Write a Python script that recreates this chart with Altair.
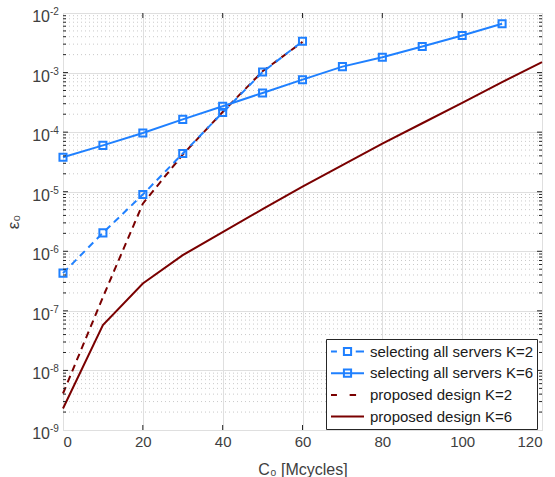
import altair as alt
import pandas as pd
import numpy as np

# ---------------- data ----------------
sel_k2_x = [0, 10, 20, 30, 40, 50, 60]
sel_k2_y = [4.3e-7, 2.04e-6, 8.97e-6, 4.37e-5, 2.13e-4, 1.02e-3, 3.35e-3]

sel_k6_x = [0, 10, 20, 30, 40, 50, 60, 70, 80, 90, 100, 110]
sel_k6_y = [3.8e-5, 6.0e-5, 9.7e-5, 1.64e-4, 2.72e-4, 4.55e-4, 7.6e-4,
            1.26e-3, 1.81e-3, 2.73e-3, 4.2e-3, 6.6e-3]

prop_k2_x = [0, 10, 20, 30, 40, 50, 60]
prop_k2_y = [4.1e-9, 1.7e-7, 6.3e-6, 4.2e-5, 2.18e-4, 1.05e-3, 3.27e-3]

prop_k6_x = [0, 10, 20, 30, 40, 50, 60, 70, 80, 90, 100, 110, 120]
prop_k6_y = [2.3e-9, 5.75e-8, 2.88e-7, 8.6e-7, 2.1e-6, 5.1e-6, 1.22e-5,
             2.8e-5, 6.4e-5, 1.41e-4, 3.1e-4, 6.9e-4, 1.5e-3]

series_names = ["selecting all servers K=2", "selecting all servers K=6",
                "proposed design K=2", "proposed design K=6"]

x_ticks = [0, 20, 40, 60, 80, 100, 120]
y_exponents = [-9, -8, -7, -6, -5, -4, -3, -2]
minor_mult = [2, 3, 4, 5, 6, 7, 8, 9]

# ---------------- tables ----------------
frames = []
for name, xs_, ys_ in zip(series_names,
                          [sel_k2_x, sel_k6_x, prop_k2_x, prop_k6_x],
                          [sel_k2_y, sel_k6_y, prop_k2_y, prop_k6_y]):
    frames.append(pd.DataFrame({"x": xs_, "y": ys_, "series": name}))
df = pd.concat(frames, ignore_index=True)

major_y = [10.0 ** e for e in y_exponents]
minor_y = [m * 10.0 ** e for e in y_exponents[:-1] for m in minor_mult]
df_minor = pd.DataFrame({"y": minor_y})
df_ylab = pd.DataFrame({"y": major_y, "x": 0, "base": "10",
                        "exp": [str(e) for e in y_exponents]})

XMIN, XMAX = 0, 120
YMIN, YMAX = 1e-9, 1e-2
W, H = 479, 417
maj_len_x = 5 / W * (XMAX - XMIN)
min_len_x = 3 / W * (XMAX - XMIN)
len_fac_y = 10 ** (5 / H * 7)

rows = []
for v in major_y[1:-1]:
    rows.append({"y": v, "x": XMIN, "x2": XMIN + maj_len_x})
    rows.append({"y": v, "x": XMAX - maj_len_x, "x2": XMAX})
for v in minor_y:
    rows.append({"y": v, "x": XMIN, "x2": XMIN + min_len_x})
    rows.append({"y": v, "x": XMAX - min_len_x, "x2": XMAX})
df_ytk = pd.DataFrame(rows)
rows = []
for v in x_ticks[1:-1]:
    rows.append({"x": v, "y": YMIN, "y2": YMIN * len_fac_y})
    rows.append({"x": v, "y": YMAX / len_fac_y, "y2": YMAX})
df_xtk = pd.DataFrame(rows)

# ---------------- styles ----------------
BLUE = "#1f80ff"
RED = "#7a0000"
AX = "#262626"
LAB = "#404040"
FONT = "Liberation Sans"

xs = alt.Scale(domain=[XMIN, XMAX], nice=False, zero=False)
ys = alt.Scale(type="log", domain=[YMIN, YMAX], nice=False)

x_axis = alt.Axis(
    values=x_ticks, grid=True, gridColor="#dfdfdf", ticks=False,
    domain=False, labelFontSize=15, labelColor=LAB, labelPadding=4,
    labelFont=FONT,
    title="C₀ [Mcycles]", titleFontSize=16, titleFontWeight="normal",
    titleColor=LAB, titleBaseline="alphabetic", titleY=44, titleFont=FONT)
y_axis = alt.Axis(
    values=major_y, grid=True, gridColor="#dfdfdf", ticks=False,
    domain=False, labels=False,
    title="ε₀", titleFontSize=17, titleFontWeight="normal",
    titleColor=LAB, titleBaseline="alphabetic", titleX=-45, titleFont=FONT)

X = alt.X("x:Q", scale=xs, axis=x_axis, title="C₀ [Mcycles]")
Y = alt.Y("y:Q", scale=ys, axis=y_axis, title="ε₀")

minor_grid = alt.Chart(df_minor).mark_rule(
    color="#c9c9c9", strokeWidth=1, strokeDash=[1, 3]
).encode(y=Y)

def line_layer(name, color, dash):
    kw = dict(color=color, strokeWidth=2)
    if dash:
        kw["strokeDash"] = [7, 5]
    return alt.Chart(df).transform_filter(
        alt.datum.series == name).mark_line(**kw).encode(x=X, y=Y)

def marker_layer(name):
    return alt.Chart(df).transform_filter(
        alt.datum.series == name).mark_point(
        shape="square", filled=False, size=50, strokeWidth=2, color=BLUE,
        opacity=1).encode(x=X, y=Y)

R = 2.2
shape_paths = [
    f"M-{R},0H-{R*0.64:.3f}M{R*0.5:.3f},0H{R}M-0.48,-0.48H0.48V0.48H-0.48Z",
    f"M-{R},0H{R}M-0.48,-0.48H0.48V0.48H-0.48Z",
    f"M-{R},0H-{R*0.64:.3f}M{R*0.13:.3f},0H{R*0.52:.3f}",
    f"M-{R},0H{R}",
]
leg = alt.Legend(
    title=None, orient="none", legendX=263, legendY=326, direction="vertical",
    symbolSize=225, symbolStrokeWidth=2, symbolFillColor="transparent",
    symbolOffset=9, labelOffset=14,
    labelFontSize=15, labelColor="#1a1a1a", labelFont=FONT,
    padding=4, rowPadding=4.7, strokeColor=AX, fillColor="white",
    cornerRadius=0, labelLimit=400,
)
legend_layer = alt.Chart(df).mark_point(opacity=0, filled=False).encode(
    x=X, y=Y,
    color=alt.Color("series:N", scale=alt.Scale(
        domain=series_names, range=[BLUE, BLUE, RED, RED]), legend=leg),
    shape=alt.Shape("series:N", scale=alt.Scale(
        domain=series_names, range=shape_paths), legend=leg),
)

ytick_layer = alt.Chart(df_ytk).mark_rule(color=AX, strokeWidth=1).encode(
    x=X, x2="x2:Q", y=Y)
xtick_layer = alt.Chart(df_xtk).mark_rule(color=AX, strokeWidth=1).encode(
    x=X, y=Y, y2="y2:Q")

ylab_base = alt.Chart(df_ylab).mark_text(
    align="right", baseline="middle", dx=-13, dy=4, fontSize=16,
    color=LAB, font=FONT).encode(x=X, y=Y, text="base:N")
ylab_exp = alt.Chart(df_ylab).mark_text(
    align="left", baseline="middle", dx=-13, dy=-1, fontSize=10,
    color=LAB, font=FONT).encode(x=X, y=Y, text="exp:N")

chart = alt.layer(
    minor_grid,
    line_layer(series_names[3], RED, False),
    line_layer(series_names[2], RED, True),
    line_layer(series_names[1], BLUE, False),
    line_layer(series_names[0], BLUE, True),
    marker_layer(series_names[1]),
    marker_layer(series_names[0]),
    ytick_layer,
    xtick_layer,
    ylab_base,
    ylab_exp,
    legend_layer,
).properties(
    width=W, height=H,
    padding={"left": 63, "top": 13, "right": 13, "bottom": 47},
    autosize=alt.AutoSizeParams(type="none"),
    background="white",
).configure_view(stroke=AX, strokeWidth=1).configure(font=FONT)

chart.save("out.html", embed_options={"renderer": "svg", "actions": False})
